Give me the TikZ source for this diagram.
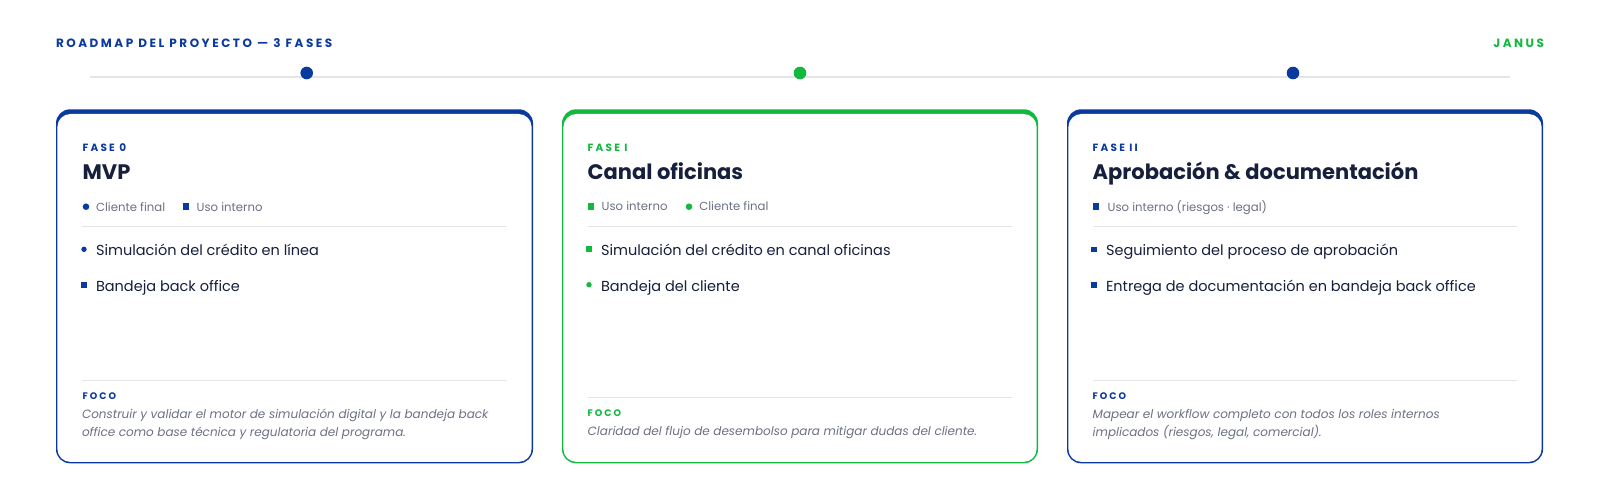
\documentclass[tikz,border=0pt]{standalone}
\usepackage{fontspec}
\setmainfont{Poppins}
\newfontfamily\capsfont[LetterSpace=21]{Poppins}
\definecolor{jblue}{HTML}{0B3A9E}
\definecolor{jgreen}{HTML}{13B83F}
\definecolor{jnavy}{HTML}{161F3B}
\definecolor{jgray}{HTML}{6C7183}
\definecolor{jline}{HTML}{E3E5EA}
\tikzset{
  txt/.style={anchor=base west, inner sep=0pt, outer sep=0pt},
  header/.style={txt, font=\capsfont\bfseries\fontsize{12}{14}\selectfont},
  phase/.style={txt, font=\capsfont\bfseries\fontsize{10.5}{13}\selectfont},
  cardtitle/.style={txt, text=jnavy, font=\bfseries\fontsize{21}{26}\selectfont},
  legend/.style={txt, text=jgray, font=\fontsize{11.7}{14}\selectfont},
  item/.style={txt, text=jnavy, font=\fontsize{14.5}{18}\selectfont},
  foco/.style={txt, font=\capsfont\bfseries\fontsize{9.5}{12}\selectfont},
  focustxt/.style={txt, text=jgray, font=\itshape\fontsize{12}{18}\selectfont},
  sepline/.style={jline, line width=0.9pt},
  dotmark/.style={circle, inner sep=0pt, minimum size=12.6pt},
}
\begin{document}
\begin{tikzpicture}[x=1pt,y=-1pt]
\useasboundingbox[fill=white] (0,0) rectangle (1600,500);

% header
\node[header, text=jblue] (title) at (56,47.3) {ROADMAP DEL PROYECTO — 3 FASES};
\node[header, text=jgreen, anchor=base east] (brand) at (1544,47.3) {JANUS};

% timeline
\coordinate (tlA) at (90,77);
\coordinate (tlB) at (1510,77);
\draw[jline, line width=2pt] (tlA) -- (tlB);
\node[dotmark, fill=jblue] (d1) at (306.7,73) {};
\node[dotmark, fill=jgreen] (d2) at (800,73) {};
\node[dotmark, fill=jblue] (d3) at (1293,73) {};

% cards
\foreach \L/\R/\C in {56/533/jblue, 562/1038/jgreen, 1067/1543/jblue}{
  \fill[\C, rounded corners=14pt] (\L,109.3) rectangle (\R,463.3);
  \fill[white, rounded corners=13pt] (\L+1.4,114) rectangle (\R-1.4,461.9);
}

% ---------- card 1 ----------
\node[phase, text=jblue] (p0) at (82.7,151) {FASE 0};
\node[cardtitle] (t0) at (82.7,179.3) {MVP};
\fill[jblue] (86,206.7) circle (3.3);
\node[legend] (l0a) at (96,211.5) {Cliente final};
\fill[jblue] (182.7,203.3) rectangle (189.3,209.9);
\node[legend] (l0b) at (196.7,211.5) {Uso interno};
\draw[sepline] (82,226) -- (507,226);
\fill[jblue] (84,249.3) circle (2.7);
\node[item] (i0a) at (96,255.7) {Simulación del crédito en línea};
\fill[jblue] (81.3,282.3) rectangle (86.7,287.7);
\node[item] (i0b) at (96,291.7) {Bandeja back office};
\draw[sepline] (82,380.3) -- (507,380.3);
\node[foco, text=jblue] (f0) at (82.7,399) {FOCO};
\node[focustxt] (ft0a) at (82,418.3) {Construir y validar el motor de simulación digital y la bandeja back};
\node[focustxt] (ft0b) at (82,436) {office como base técnica y regulatoria del programa.};

% ---------- card 2 ----------
\node[phase, text=jgreen] (p1) at (587.7,151) {FASE I};
\node[cardtitle] (t1) at (587.7,179.3) {Canal oficinas};
\fill[jgreen] (587.7,203.3) rectangle (594.3,209.9);
\node[legend] (l1a) at (601.7,210.7) {Uso interno};
\fill[jgreen] (689,206.7) circle (3.3);
\node[legend] (l1b) at (699.3,210.7) {Cliente final};
\draw[sepline] (587.7,226) -- (1012.3,226);
\fill[jgreen] (586.3,246.3) rectangle (591.7,251.7);
\node[item] (i1a) at (601,255) {Simulación del crédito en canal oficinas};
\fill[jgreen] (589,284.7) circle (2.7);
\node[item] (i1b) at (601,291) {Bandeja del cliente};
\draw[sepline] (587.7,397.3) -- (1012.3,397.3);
\node[foco, text=jgreen] (f1) at (587.7,416) {FOCO};
\node[focustxt] (ft1) at (587.7,435) {Claridad del flujo de desembolso para mitigar dudas del cliente.};

% ---------- card 3 ----------
\node[phase, text=jblue] (p2) at (1092.7,151) {FASE II};
\node[cardtitle] (t2) at (1092.7,179.3) {Aprobación \& documentación};
\fill[jblue] (1092.7,203.3) rectangle (1099.3,209.9);
\node[legend] (l2a) at (1107.7,211.5) {Uso interno (riesgos · legal)};
\draw[sepline] (1092.7,226) -- (1517.3,226);
\fill[jblue] (1091.3,246.6) rectangle (1096.7,252);
\node[item] (i2a) at (1106,255.7) {Seguimiento del proceso de aprobación};
\fill[jblue] (1091.3,282.3) rectangle (1096.7,287.7);
\node[item] (i2b) at (1106,291.7) {Entrega de documentación en bandeja back office};
\draw[sepline] (1092.7,380.7) -- (1517.3,380.7);
\node[foco, text=jblue] (f2) at (1092.7,399) {FOCO};
\node[focustxt] (ft2a) at (1092.7,418.3) {Mapear el workflow completo con todos los roles internos};
\node[focustxt] (ft2b) at (1092.7,436) {implicados (riesgos, legal, comercial).};
\end{tikzpicture}
\end{document}
